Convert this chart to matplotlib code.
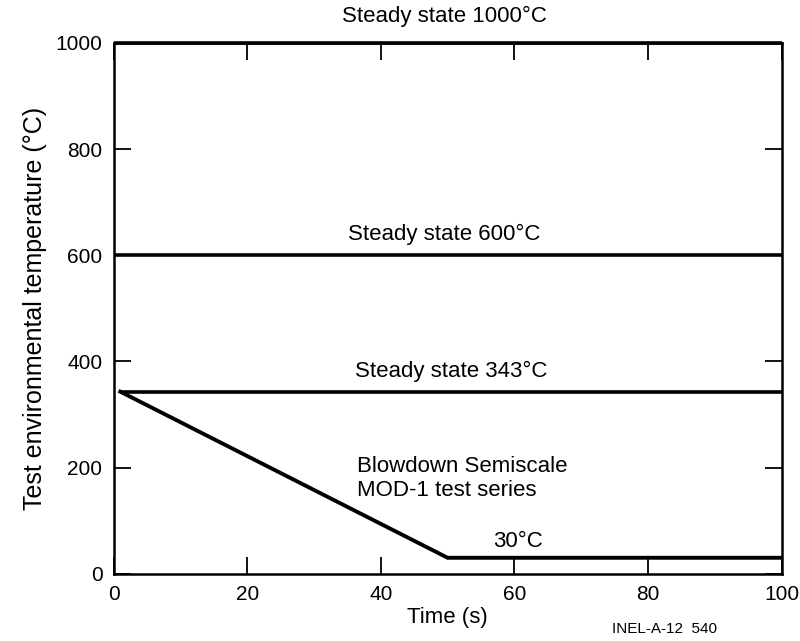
import numpy as np
import matplotlib.pyplot as plt

plt.rcParams['font.family'] = ['Liberation Sans', 'DejaVu Sans']

# --- DATA ---
STEADY_LEVELS = [1000, 600, 343]
STEADY_LABELS = ['Steady state 1000°C', 'Steady state 600°C', 'Steady state 343°C']
STEADY_START = [0, 0, 1]
BLOWDOWN_T = [1, 50, 100]
BLOWDOWN_TEMP = [343, 30, 30]
X_TICKS = [0, 20, 40, 60, 80, 100]
Y_TICKS = [0, 200, 400, 600, 800, 1000]

FS = 16


def main():
    fig = plt.figure(figsize=(8, 6.41), dpi=100)
    ax = fig.add_axes([0.142, 0.105, 0.835, 0.828])

    # steady state lines
    for lvl, x0 in zip(STEADY_LEVELS, STEADY_START):
        ax.plot([x0, 100], [lvl, lvl], color='black', lw=2.6,
                solid_capstyle='butt', clip_on=False)

    # blowdown ramp
    ax.plot(BLOWDOWN_T, BLOWDOWN_TEMP, color='black', lw=2.8,
            solid_joinstyle='miter')

    ax.set_xlim(0, 100)
    ax.set_ylim(0, 1000)
    ax.set_xticks(X_TICKS)
    ax.set_yticks(Y_TICKS)
    ax.tick_params(direction='in', length=12, width=1.3, top=True, right=True,
                   labelsize=15, pad=8)
    for sp in ax.spines.values():
        sp.set_linewidth(1.8)

    # labels on the lines
    ax.text(49.5, 1030, STEADY_LABELS[0], ha='center', va='bottom', fontsize=FS)
    ax.text(49.5, 620, STEADY_LABELS[1], ha='center', va='bottom', fontsize=FS)
    ax.text(50.5, 362, STEADY_LABELS[2], ha='center', va='bottom', fontsize=FS)
    ax.text(36.5, 180, 'Blowdown Semiscale\nMOD-1 test series', ha='left',
            va='center', fontsize=FS, linespacing=1.2)
    ax.text(60.5, 40, '30°C', ha='center', va='bottom', fontsize=FS)

    ax.set_xlabel('Time (s)', fontsize=FS, labelpad=2)
    ax.set_ylabel('Test environmental temperature (°C)', fontsize=18, labelpad=6)
    fig.text(0.83, 0.008, 'INEL-A-12  540', ha='center', va='bottom', fontsize=11)

    fig.savefig('out.png', dpi=100)


if __name__ == '__main__':
    main()
